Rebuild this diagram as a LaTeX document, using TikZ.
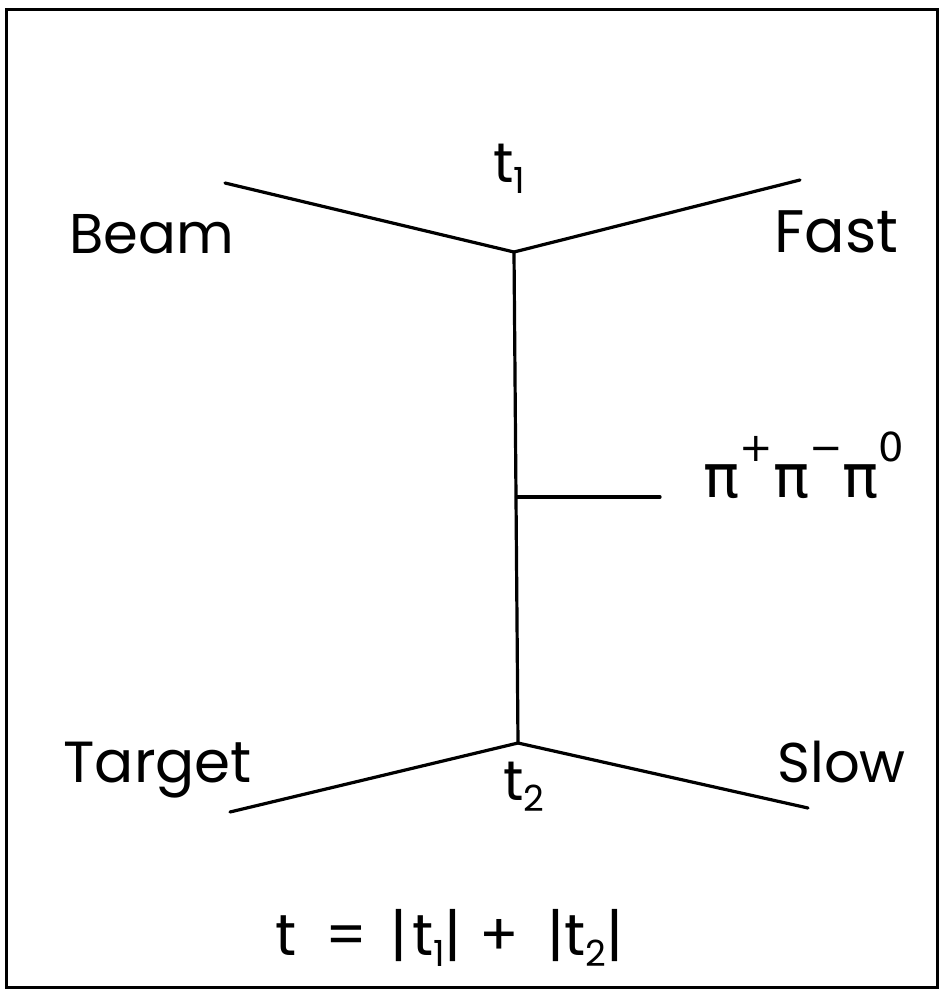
\documentclass[tikz,border=0pt]{standalone}
\usepackage{fontspec}
\setmainfont{Poppins}
\newfontfamily\grk{DejaVu Sans}
\newcommand{\sbs}[1]{\raisebox{-0.2em}{\fontsize{36}{38}\selectfont #1}}
\newcommand{\sps}[1]{\raisebox{0.6em}{\fontsize{40}{42}\selectfont #1}}
\begin{document}
\begin{tikzpicture}[x=1pt,y=-1pt,line width=3pt,
  lbl/.style={inner sep=0pt,anchor=base west,font=\fontsize{56}{60}\selectfont},
  leg/.style={line width=3.2pt,line cap=round}]
\useasboundingbox (0,0) rectangle (941,989);
\draw[line width=3pt] (6,9) rectangle (937,987);
% vertices
\coordinate (v1) at (514,252);
\coordinate (vm) at (516.5,497);
\coordinate (v2) at (518,743);
\coordinate (beamEnd) at (225,183);
\coordinate (fastEnd) at (800,180);
\coordinate (pionEnd) at (660,497);
\coordinate (targetEnd) at (230,812);
\coordinate (slowEnd) at (808,808);
% lines
\draw[leg] (beamEnd) -- (v1) -- (fastEnd);
\draw[leg] (v1) -- (v2);
\draw[leg] (vm) -- (pionEnd);
\draw[leg] (targetEnd) -- (v2) -- (slowEnd);
% labels
\node[lbl] (beam) at (68,253) {Beam};
\node[lbl,font=\fontsize{60}{64}\selectfont] (fast) at (773,252) {Fast};
\node[lbl,font=\fontsize{58}{62}\selectfont] (target) at (62,782) {Target};
\node[lbl] (slow) at (776,782) {Slow};
\node[lbl] (t1) at (492,182) {t\sbs{1}};
\node[lbl] (t2) at (502,800) {t\sbs{2}};
\node[lbl,font=\fontsize{60}{64}\selectfont\grk] (pions) at (702,497) {π\sps{+}π\sps{−}π\sps{0}};
\node[lbl,font=\fontsize{58}{62}\selectfont] (formula) at (274,955) {t\hspace{0.5em}=\hspace{0.4em}|\hspace{0.08em}t\sbs{1}|\hspace{0.3em}+\hspace{0.5em}|t\sbs{2}|};
\end{tikzpicture}
\end{document}
